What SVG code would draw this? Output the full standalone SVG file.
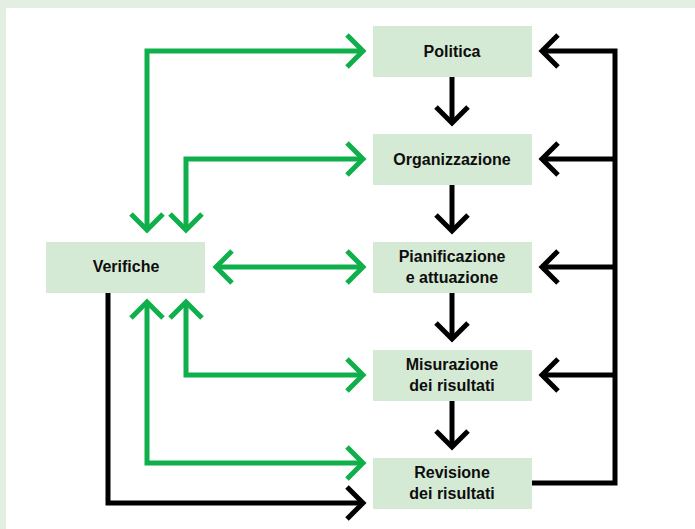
<svg xmlns="http://www.w3.org/2000/svg" width="695" height="529" viewBox="0 0 695 529">
<style>
.box{fill:#d5ead4}
.lbl{font-family:"Liberation Sans",Arial,sans-serif;font-weight:bold;font-size:16px;fill:#0d0d0d;text-anchor:middle}
.g{fill:none;stroke:#0fb04b;stroke-width:5;stroke-linejoin:miter}
.k{fill:none;stroke:#000;stroke-width:5;stroke-linejoin:miter}
</style>
<defs>
<marker id="ag" markerUnits="userSpaceOnUse" markerWidth="40" markerHeight="40" viewBox="-22 -20 26 40" refX="0" refY="0" orient="auto-start-reverse" overflow="visible">
<path d="M-16 -16 L0 0 L-16 16" fill="none" stroke="#0fb04b" stroke-width="5"/>
</marker>
<marker id="ak" markerUnits="userSpaceOnUse" markerWidth="40" markerHeight="40" viewBox="-22 -20 26 40" refX="0" refY="0" orient="auto" overflow="visible">
<path d="M-16 -16 L0 0 L-16 16" fill="none" stroke="#000" stroke-width="5"/>
</marker>
</defs>
<rect x="0" y="0" width="695" height="529" fill="#e3efe3"/>
<rect x="6" y="8" width="689" height="521" fill="#ffffff"/>
<g id="connectors">
<path class="k" d="M452 77 V123" marker-end="url(#ak)"/>
<path class="k" d="M452 185 V231" marker-end="url(#ak)"/>
<path class="k" d="M452 293 V339" marker-end="url(#ak)"/>
<path class="k" d="M452 401 V447" marker-end="url(#ak)"/>
<path class="k" d="M532 483 H615 V51 H542" marker-end="url(#ak)"/>
<path class="k" d="M615 159 H542" marker-end="url(#ak)"/>
<path class="k" d="M615 267 H542" marker-end="url(#ak)"/>
<path class="k" d="M615 375 H542" marker-end="url(#ak)"/>
<path class="k" d="M108 293 V503 H363" marker-end="url(#ak)"/>
<path class="g" d="M147 230 V51 H363" marker-start="url(#ag)" marker-end="url(#ag)"/>
<path class="g" d="M186 230 V159 H363" marker-start="url(#ag)" marker-end="url(#ag)"/>
<path class="g" d="M216 267 H363" marker-start="url(#ag)" marker-end="url(#ag)"/>
<path class="g" d="M186 302 V375 H363" marker-start="url(#ag)" marker-end="url(#ag)"/>
<path class="g" d="M147 302 V463 H363" marker-start="url(#ag)" marker-end="url(#ag)"/>
</g>
<g id="politica"><rect class="box" x="373" y="26" width="159" height="51"/><text class="lbl" x="452" y="57">Politica</text></g>
<g id="organizzazione"><rect class="box" x="373" y="134" width="159" height="51"/><text class="lbl" x="452" y="165">Organizzazione</text></g>
<g id="pianificazione"><rect class="box" x="373" y="242" width="159" height="51"/><text class="lbl" x="452" y="262">Pianificazione</text><text class="lbl" x="452" y="283">e attuazione</text></g>
<g id="misurazione"><rect class="box" x="373" y="350" width="159" height="51"/><text class="lbl" x="452" y="370">Misurazione</text><text class="lbl" x="452" y="391">dei risultati</text></g>
<g id="revisione"><rect class="box" x="373" y="458" width="159" height="51"/><text class="lbl" x="452" y="478">Revisione</text><text class="lbl" x="452" y="499">dei risultati</text></g>
<g id="verifiche"><rect class="box" x="46" y="242" width="159" height="51"/><text class="lbl" x="126" y="272">Verifiche</text></g>
</svg>
